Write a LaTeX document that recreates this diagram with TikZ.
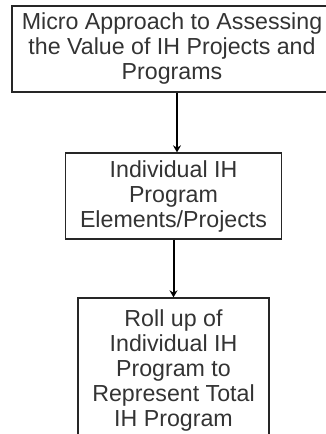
\documentclass[tikz,border=0pt]{standalone}
\usepackage{fontspec}
\setmainfont{Liberation Sans}
\usetikzlibrary{arrows.meta}
\begin{document}
\begin{tikzpicture}[x=1pt,y=-1pt]
\tikzset{box/.style={draw=black!85, line width=1.3pt, align=center, inner sep=0pt,
    font=\fontsize{23.2}{25}\selectfont, text=black!80,
    execute at begin node={\rule{0pt}{1.05em}}},
  link/.style={-{Stealth[length=7pt,width=8pt]}, line width=2pt}}
\useasboundingbox (0,0) rectangle (325,434);
\node[box, minimum width=320pt, minimum height=86pt] (micro) at (172,49)
  {Micro Approach to Assessing\\the Value of IH Projects and\\Programs};
\node[box, minimum width=216pt, minimum height=86pt] (elements) at (173.5,196)
  {Individual IH\\Program\\Elements/Projects};
\node[box, minimum width=191pt, minimum height=144pt] (rollup) at (173.5,370)
  {Roll up of\\Individual IH\\Program to\\Represent Total\\IH Program};
\draw[link] ([xshift=5pt]micro.south) -- ([xshift=5pt]micro.south |- elements.north);
\draw[link] (elements.south) -- (rollup.north);
\end{tikzpicture}
\end{document}
